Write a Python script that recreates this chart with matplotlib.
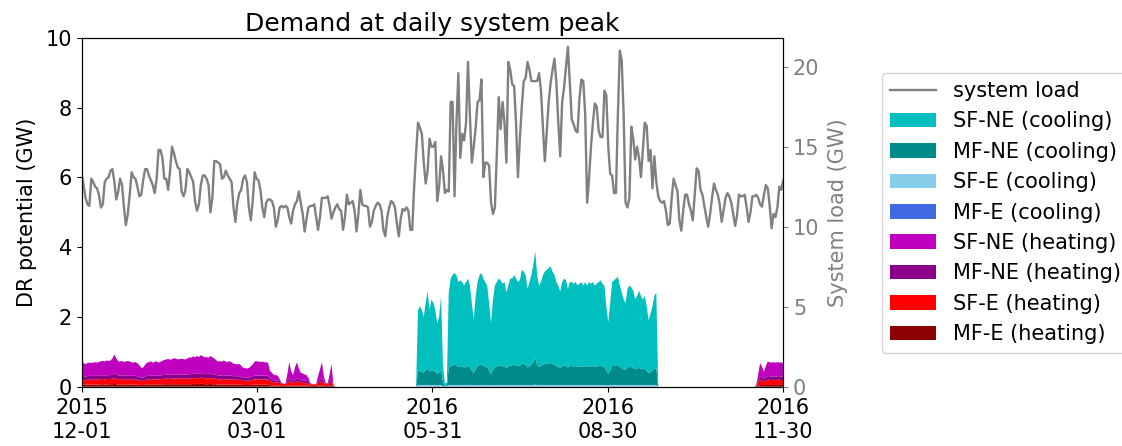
import numpy as np
import pandas as pd
import matplotlib
matplotlib.use("Agg")
import matplotlib.pyplot as plt
import matplotlib.dates as mdates
from matplotlib.patches import Patch
from matplotlib.lines import Line2D

# ---------------------------------------------------------
# daily values, 2015-12-01 .. 2016-11-30
# ---------------------------------------------------------
DATES = pd.date_range("2015-12-01", "2016-11-30", freq="D")

# system load at the daily peak hour (GW)
SYSTEM_LOAD = [
    13.3, 12.6, 11.8, 11.4, 11.3, 13.0, 12.8, 12.5, 12.4, 12.0,
    11.2, 11.4, 12.8, 13.0, 13.1, 13.5, 13.6, 12.8, 11.7, 12.2,
    13.0, 12.6, 11.2, 10.1, 10.8, 12.0, 13.4, 13.1, 13.0, 12.5,
    11.9, 12.0, 12.9, 13.6, 13.6, 13.2, 12.9, 12.6, 12.1, 13.0,
    14.8, 14.8, 14.3, 13.0, 13.0, 12.3, 13.5, 15.0, 14.6, 14.1,
    13.7, 13.6, 12.2, 11.9, 12.3, 13.6, 13.4, 13.1, 12.8, 11.6,
    11.0, 11.4, 12.6, 13.2, 13.2, 13.0, 12.6, 10.9, 11.8, 14.1,
    14.1, 14.0, 13.9, 13.0, 13.1, 13.5, 13.2, 13.0, 12.8, 11.2,
    10.3, 11.5, 12.1, 12.3, 13.0, 13.2, 12.8, 11.2, 10.4, 11.6,
    13.4, 13.0, 12.9, 12.3, 11.2, 10.6, 11.5, 11.7, 11.7, 11.6,
    11.2, 10.0, 10.4, 11.2, 11.3, 11.2, 11.3, 11.2, 10.6, 10.2,
    11.0, 11.4, 11.6, 12.2, 11.5, 10.8, 9.7, 10.5, 11.2, 11.3,
    11.3, 11.4, 10.6, 9.8, 10.6, 11.8, 11.8, 11.8, 11.9, 11.3,
    10.5, 10.9, 11.2, 11.4, 11.1, 11.0, 9.8, 10.6, 12.0, 11.4,
    11.5, 11.6, 11.0, 9.7, 10.8, 12.3, 11.4, 11.3, 11.3, 11.2,
    10.0, 10.3, 11.0, 11.3, 11.5, 11.4, 11.0, 9.8, 9.4, 10.6,
    11.2, 11.6, 11.5, 11.2, 10.2, 9.4, 10.5, 11.1, 11.0, 11.2,
    11.0, 9.8, 9.8, 12.5, 14.6, 16.5, 16.2, 15.8, 14.0, 12.7,
    13.5, 15.5, 15.0, 15.0, 15.3, 11.6, 12.5, 14.4, 13.5, 12.1,
    12.3, 12.2, 17.8, 17.8, 11.9, 16.5, 19.6, 14.3, 15.8, 15.4,
    16.5, 20.3, 17.0, 14.0, 15.0, 16.2, 17.8, 17.9, 19.2, 13.1,
    14.0, 14.0, 13.8, 11.5, 10.8, 11.2, 14.5, 18.1, 16.1, 17.8,
    16.5, 14.0, 20.3, 19.8, 18.9, 18.8, 16.5, 13.1, 15.5, 17.5,
    19.1, 19.3, 20.3, 19.8, 19.1, 19.1, 19.1, 19.1, 19.6, 18.5,
    16.2, 14.1, 16.0, 17.8, 19.0, 19.8, 20.5, 19.0, 16.5, 14.4,
    17.8, 18.7, 20.0, 21.25, 19.0, 16.7, 16.4, 16.0, 15.9, 18.0,
    19.2, 19.1, 17.0, 11.5, 13.0, 15.0, 16.5, 17.7, 17.5, 16.0,
    15.6, 15.6, 18.5, 18.2, 15.0, 13.3, 13.2, 12.1, 12.1, 17.0,
    21.0, 20.4, 17.0, 11.5, 11.2, 11.8, 16.25, 15.5, 14.2, 15.0,
    14.3, 13.1, 14.8, 16.5, 16.3, 14.1, 14.8, 12.4, 14.4, 12.8,
    11.9, 11.6, 11.5, 11.6, 11.0, 10.1, 10.2, 11.8, 13.0, 12.6,
    12.2, 10.4, 9.75, 11.0, 12.0, 12.0, 11.4, 11.0, 10.4, 12.0,
    13.65, 13.5, 12.3, 12.0, 11.3, 10.6, 10.0, 10.8, 11.8, 12.7,
    12.3, 12.0, 11.4, 10.3, 11.0, 11.8, 12.1, 11.9, 11.5, 10.8,
    10.05, 10.7, 12.0, 11.9, 11.9, 12.0, 11.2, 10.3, 10.9, 11.9,
    11.9, 12.0, 11.8, 11.4, 11.25, 12.0, 12.6, 12.4, 11.3, 9.9,
    10.8, 10.6, 11.2, 12.5, 12.3, 12.9,
]

# ---------------------------------------------------------
# heating DR potential (GW): winter block from 2015-12-01,
# second block from 2016-11-15
# ---------------------------------------------------------
HEAT_WINTER_START = "2015-12-01"
HEAT_LATE_START = "2016-11-15"

SF_NE_HEAT_WINTER = [
    0.38, 0.37, 0.36, 0.37, 0.38, 0.37, 0.38, 0.39, 0.38, 0.39,
    0.40, 0.41, 0.40, 0.42, 0.41, 0.42, 0.46, 0.54, 0.46, 0.41,
    0.40, 0.41, 0.39, 0.40, 0.41, 0.40, 0.39, 0.38, 0.40, 0.37,
    0.34, 0.28, 0.29, 0.34, 0.38, 0.39, 0.40, 0.38, 0.39, 0.40,
    0.38, 0.39, 0.41, 0.43, 0.44, 0.45, 0.43, 0.44, 0.46, 0.45,
    0.43, 0.44, 0.45, 0.44, 0.43, 0.46, 0.48, 0.47, 0.49, 0.48,
    0.50, 0.49, 0.51, 0.50, 0.48, 0.49, 0.47, 0.50, 0.48, 0.46,
    0.42, 0.40, 0.41, 0.40, 0.42, 0.40, 0.39, 0.41, 0.38, 0.36,
    0.35, 0.34, 0.35, 0.32, 0.28, 0.27, 0.26, 0.28, 0.30, 0.34,
    0.40, 0.41, 0.40, 0.39, 0.40, 0.38, 0.38, 0.37,
    0.21, 0.19, 0.16, 0.15, 0.14, 0.06, 0.01, 0.01, 0.00, 0.19,
    0.45, 0.26, 0.16, 0.35, 0.45, 0.32, 0.22, 0.21, 0.18, 0.16,
    0.10, 0.01, 0.01, 0.00, 0.01, 0.15, 0.31, 0.45, 0.15, 0.01,
    0.01, 0.18, 0.41, 0.00,
]
MF_NE_HEAT_WINTER = [
    0.11, 0.11, 0.10, 0.11, 0.11, 0.11, 0.11, 0.11, 0.11, 0.11, 0.11, 0.11, 0.11, 0.11,
    0.11, 0.11, 0.12, 0.13, 0.12, 0.11, 0.11, 0.11, 0.11, 0.11, 0.11, 0.11, 0.11, 0.11,
    0.11, 0.10, 0.10, 0.09, 0.09, 0.10, 0.11, 0.11, 0.11, 0.11, 0.11, 0.11, 0.11, 0.11,
    0.11, 0.11, 0.11, 0.12, 0.12, 0.12, 0.12, 0.12, 0.12, 0.12, 0.12, 0.12, 0.12, 0.12,
    0.12, 0.12, 0.13, 0.12, 0.13, 0.12, 0.13, 0.13, 0.12, 0.12, 0.12, 0.13, 0.12, 0.12,
    0.11, 0.11, 0.11, 0.11, 0.11, 0.11, 0.11, 0.11, 0.11, 0.10, 0.10, 0.10, 0.10, 0.10,
    0.09, 0.09, 0.09, 0.09, 0.10, 0.10, 0.11, 0.11, 0.11, 0.11, 0.11, 0.11, 0.11, 0.11,
    0.08, 0.07, 0.06, 0.06, 0.06, 0.05, 0.02, 0.01, 0.01, 0.05,
    0.09, 0.07, 0.06, 0.07, 0.09, 0.07, 0.06, 0.06, 0.06, 0.06,
    0.05, 0.02, 0.01, 0.01, 0.01, 0.05, 0.07, 0.09, 0.05, 0.02,
    0.02, 0.06, 0.09, 0.01,
]
SF_E_HEAT_WINTER = [
    0.14, 0.14, 0.13, 0.14, 0.14, 0.14, 0.14, 0.14, 0.14, 0.15, 0.15, 0.15, 0.15, 0.15,
    0.15, 0.15, 0.16, 0.17, 0.16, 0.15, 0.15, 0.15, 0.15, 0.15, 0.15, 0.15, 0.14, 0.14,
    0.14, 0.14, 0.13, 0.12, 0.12, 0.13, 0.14, 0.14, 0.15, 0.14, 0.15, 0.15, 0.14, 0.15,
    0.15, 0.16, 0.16, 0.16, 0.15, 0.16, 0.16, 0.17, 0.16, 0.16, 0.16, 0.16, 0.16, 0.16,
    0.17, 0.17, 0.17, 0.17, 0.17, 0.17, 0.18, 0.17, 0.17, 0.17, 0.17, 0.17, 0.17, 0.16,
    0.16, 0.15, 0.15, 0.15, 0.15, 0.15, 0.15, 0.15, 0.15, 0.14, 0.14, 0.14, 0.14, 0.13,
    0.12, 0.12, 0.12, 0.12, 0.13, 0.14, 0.15, 0.15, 0.15, 0.15, 0.15, 0.15, 0.15, 0.14,
    0.12, 0.10, 0.09, 0.09, 0.09, 0.08, 0.06, 0.05, 0.05, 0.08,
    0.12, 0.09, 0.08, 0.10, 0.12, 0.10, 0.09, 0.08, 0.08, 0.08,
    0.07, 0.05, 0.04, 0.04, 0.04, 0.07, 0.09, 0.12, 0.07, 0.05,
    0.05, 0.08, 0.11, 0.03,
]
MF_E_HEAT_WINTER = [
    0.06, 0.06, 0.05, 0.06, 0.06, 0.06, 0.06, 0.06, 0.06, 0.06, 0.07, 0.07, 0.06, 0.07,
    0.07, 0.07, 0.07, 0.08, 0.07, 0.06, 0.06, 0.07, 0.06, 0.06, 0.07, 0.06, 0.06, 0.06,
    0.06, 0.06, 0.05, 0.05, 0.05, 0.06, 0.06, 0.06, 0.07, 0.06, 0.06, 0.07, 0.06, 0.06,
    0.07, 0.07, 0.07, 0.07, 0.07, 0.07, 0.07, 0.07, 0.07, 0.07, 0.07, 0.07, 0.07, 0.07,
    0.07, 0.07, 0.08, 0.07, 0.08, 0.07, 0.08, 0.08, 0.07, 0.07, 0.07, 0.08, 0.07, 0.07,
    0.07, 0.06, 0.06, 0.06, 0.07, 0.06, 0.06, 0.06, 0.06, 0.06, 0.06, 0.06, 0.06, 0.06,
    0.05, 0.05, 0.05, 0.05, 0.05, 0.06, 0.06, 0.06, 0.06, 0.06, 0.06, 0.06, 0.06, 0.06,
    0.04, 0.04, 0.03, 0.03, 0.03, 0.03, 0.02, 0.02, 0.02, 0.03,
    0.04, 0.03, 0.03, 0.03, 0.04, 0.03, 0.03, 0.03, 0.03, 0.03,
    0.03, 0.02, 0.02, 0.02, 0.02, 0.03, 0.03, 0.04, 0.03, 0.02,
    0.02, 0.03, 0.04, 0.01,
]

SF_NE_HEAT_LATE = [0.00, 0.01, 0.18, 0.38, 0.30, 0.20, 0.33, 0.41,
                   0.40, 0.40, 0.40, 0.40, 0.40, 0.40, 0.40, 0.39]
MF_NE_HEAT_LATE = [0.00, 0.01, 0.06, 0.10, 0.09, 0.08, 0.09, 0.11,
                   0.10, 0.10, 0.10, 0.10, 0.10, 0.10, 0.10, 0.10]
SF_E_HEAT_LATE = [0.00, 0.02, 0.08, 0.14, 0.13, 0.11, 0.13, 0.15,
                  0.15, 0.14, 0.15, 0.14, 0.15, 0.15, 0.14, 0.14]
MF_E_HEAT_LATE = [0.00, 0.01, 0.03, 0.05, 0.05, 0.04, 0.05, 0.05,
                  0.05, 0.05, 0.05, 0.05, 0.05, 0.05, 0.05, 0.05]

# ---------------------------------------------------------
# cooling DR potential (GW), block from 2016-05-24
# ---------------------------------------------------------
COOL_START = "2016-05-24"

SF_NE_COOL = [
    1.77, 1.85, 1.77, 1.60, 1.93, 2.22, 1.77, 2.03, 1.94, 1.77,
    1.46, 1.60, 2.10, 0.48, 0.07, 0.07, 2.17, 2.50, 2.59, 2.63,
    2.59, 2.43, 2.46, 2.43, 2.35, 2.43, 2.50, 2.35, 1.93, 1.54,
    2.09, 2.42, 2.58, 2.63, 2.50, 2.42, 2.34, 1.93, 1.46, 2.01,
    2.34, 2.41, 2.49, 2.45, 2.37, 2.41, 2.17, 2.33, 2.49, 2.49,
    2.57, 2.49, 2.41, 2.45, 2.68, 2.65, 2.57, 2.25, 2.41, 2.57,
    2.79, 3.04, 2.57, 2.33, 2.41, 2.57, 2.65, 2.69, 2.73, 2.77,
    2.65, 2.57, 2.41, 2.33, 2.20, 2.41, 2.49, 2.45, 2.25, 2.41,
    2.41, 2.37, 2.41, 2.33, 2.37, 2.41, 2.33, 2.41, 2.33, 2.41,
    2.37, 2.41, 2.33, 2.37, 2.41, 2.45, 2.37, 2.33, 1.84, 1.48,
    1.92, 2.41, 2.45, 2.49, 2.53, 2.33, 2.17, 2.00, 1.92, 2.25,
    2.33, 2.29, 2.21, 2.00, 2.09, 2.21, 2.09, 2.00, 2.09, 1.84,
    1.52, 1.68, 1.84, 2.09, 2.17,
]
MF_NE_COOL = [
    0.38, 0.40, 0.38, 0.35, 0.42, 0.46, 0.38, 0.42, 0.41, 0.38,
    0.32, 0.35, 0.44, 0.10, 0.02, 0.02, 0.48, 0.55, 0.56, 0.58,
    0.56, 0.52, 0.54, 0.52, 0.50, 0.52, 0.55, 0.50, 0.42, 0.34,
    0.46, 0.53, 0.57, 0.58, 0.55, 0.53, 0.51, 0.42, 0.32, 0.44,
    0.51, 0.54, 0.56, 0.55, 0.53, 0.54, 0.48, 0.52, 0.56, 0.56,
    0.58, 0.56, 0.54, 0.55, 0.62, 0.60, 0.58, 0.50, 0.54, 0.58,
    0.66, 0.78, 0.58, 0.52, 0.54, 0.58, 0.60, 0.61, 0.62, 0.63,
    0.60, 0.58, 0.54, 0.52, 0.48, 0.54, 0.56, 0.55, 0.50, 0.54,
    0.54, 0.53, 0.54, 0.52, 0.53, 0.54, 0.52, 0.54, 0.52, 0.54,
    0.53, 0.54, 0.52, 0.53, 0.54, 0.55, 0.53, 0.52, 0.41, 0.33,
    0.43, 0.54, 0.55, 0.56, 0.57, 0.52, 0.48, 0.45, 0.43, 0.50,
    0.52, 0.51, 0.49, 0.45, 0.46, 0.49, 0.46, 0.45, 0.46, 0.41,
    0.34, 0.37, 0.41, 0.46, 0.48,
]
SF_E_COOL = [
    0.04, 0.04, 0.04, 0.04, 0.04, 0.04, 0.04, 0.04, 0.04, 0.04,
    0.03, 0.04, 0.04, 0.01, 0.01, 0.01, 0.04, 0.04, 0.04, 0.04,
    0.04, 0.04, 0.04, 0.04, 0.04, 0.04, 0.04, 0.04, 0.04, 0.03,
    0.04, 0.04, 0.04, 0.04, 0.04, 0.04, 0.04, 0.04, 0.03, 0.04,
    0.04, 0.04, 0.04, 0.04, 0.04, 0.04, 0.04, 0.04, 0.04, 0.04,
    0.04, 0.04, 0.04, 0.04, 0.04, 0.04, 0.04, 0.04, 0.04, 0.04,
    0.04, 0.05, 0.04, 0.04, 0.04, 0.04, 0.04, 0.04, 0.04, 0.04,
    0.04, 0.04, 0.04, 0.04, 0.04, 0.04, 0.04, 0.04, 0.04, 0.04,
    0.04, 0.04, 0.04, 0.04, 0.04, 0.04, 0.04, 0.04, 0.04, 0.04,
    0.04, 0.04, 0.04, 0.04, 0.04, 0.04, 0.04, 0.04, 0.04, 0.03,
    0.04, 0.04, 0.04, 0.04, 0.04, 0.04, 0.04, 0.04, 0.04, 0.04,
    0.04, 0.04, 0.04, 0.04, 0.04, 0.04, 0.04, 0.04, 0.04, 0.04,
    0.03, 0.04, 0.04, 0.04, 0.04,
]
MF_E_COOL = [
    0.01, 0.01, 0.01, 0.01, 0.01, 0.01, 0.01, 0.01, 0.01, 0.01,
    0.01, 0.01, 0.01, 0.01, 0.00, 0.00, 0.01, 0.01, 0.01, 0.01,
    0.01, 0.01, 0.01, 0.01, 0.01, 0.01, 0.01, 0.01, 0.01, 0.01,
    0.01, 0.01, 0.01, 0.01, 0.01, 0.01, 0.01, 0.01, 0.01, 0.01,
    0.01, 0.01, 0.01, 0.01, 0.01, 0.01, 0.01, 0.01, 0.01, 0.01,
    0.01, 0.01, 0.01, 0.01, 0.01, 0.01, 0.01, 0.01, 0.01, 0.01,
    0.01, 0.01, 0.01, 0.01, 0.01, 0.01, 0.01, 0.01, 0.01, 0.01,
    0.01, 0.01, 0.01, 0.01, 0.01, 0.01, 0.01, 0.01, 0.01, 0.01,
    0.01, 0.01, 0.01, 0.01, 0.01, 0.01, 0.01, 0.01, 0.01, 0.01,
    0.01, 0.01, 0.01, 0.01, 0.01, 0.01, 0.01, 0.01, 0.01, 0.01,
    0.01, 0.01, 0.01, 0.01, 0.01, 0.01, 0.01, 0.01, 0.01, 0.01,
    0.01, 0.01, 0.01, 0.01, 0.01, 0.01, 0.01, 0.01, 0.01, 0.01,
    0.01, 0.01, 0.01, 0.01, 0.01,
]

LABELS = ["SF-NE (cooling)", "MF-NE (cooling)", "SF-E (cooling)", "MF-E (cooling)",
          "SF-NE (heating)", "MF-NE (heating)", "SF-E (heating)", "MF-E (heating)"]
COLORS = ["c", "darkcyan", "skyblue", "royalblue",
          "m", "darkmagenta", "red", "darkred"]


def on_calendar(values, start):
    """Put a block of daily values onto the full date index (zero elsewhere)."""
    s = pd.Series(0.0, index=DATES)
    idx = pd.date_range(start, periods=len(values), freq="D")
    s.loc[idx] = values
    return s.values


def heating(winter, late):
    return on_calendar(winter, HEAT_WINTER_START) + on_calendar(late, HEAT_LATE_START)


heat_layers = [  # bottom -> top
    heating(MF_E_HEAT_WINTER, MF_E_HEAT_LATE),
    heating(SF_E_HEAT_WINTER, SF_E_HEAT_LATE),
    heating(MF_NE_HEAT_WINTER, MF_NE_HEAT_LATE),
    heating(SF_NE_HEAT_WINTER, SF_NE_HEAT_LATE),
]
cool_layers = [  # bottom -> top
    on_calendar(MF_E_COOL, COOL_START),
    on_calendar(SF_E_COOL, COOL_START),
    on_calendar(MF_NE_COOL, COOL_START),
    on_calendar(SF_NE_COOL, COOL_START),
]

# =========================================================
# PLOT
# =========================================================
FS = 15
fig = plt.figure(figsize=(11.22, 4.46), dpi=100)
ax = fig.add_axes([0.0728, 0.133, 0.6252, 0.782])

ax.stackplot(DATES, *heat_layers, colors=COLORS[7:3:-1])
ax.stackplot(DATES, *cool_layers, colors=COLORS[3::-1])

ax.set_ylim(0, 10)
ax.set_xlim(DATES[0], DATES[-1])
ax.set_ylabel("DR potential (GW)", fontsize=FS, labelpad=6)
ax.set_title("Demand at daily system peak", fontsize=18, pad=5)
ax.tick_params(labelsize=FS)
ax.tick_params(axis="x", pad=5)

ticks = pd.to_datetime(np.linspace(DATES[0].value, DATES[-1].value, 5))
ax.set_xticks(ticks)
ax.xaxis.set_major_formatter(mdates.DateFormatter("%Y\n%m-%d"))

ax2 = ax.twinx()
ax2.plot(DATES, SYSTEM_LOAD, color="gray", linewidth=1.7)
ax2.set_ylim(0, 21.8)
ax2.set_ylabel("System load (GW)", color="gray", fontsize=FS, labelpad=6)
ax2.tick_params(axis="y", colors="gray", labelsize=FS)
ax2.set_yticks([0, 5, 10, 15, 20])

handles = [Line2D([], [], color="gray", linewidth=1.7)]
handles += [Patch(facecolor=c) for c in COLORS]
fig.legend(handles, ["system load"] + LABELS, loc="center left",
           bbox_to_anchor=(0.7858, 0.5235), fontsize=FS,
           handlelength=2.2, borderaxespad=0)

fig.savefig("out.png", dpi=100)
